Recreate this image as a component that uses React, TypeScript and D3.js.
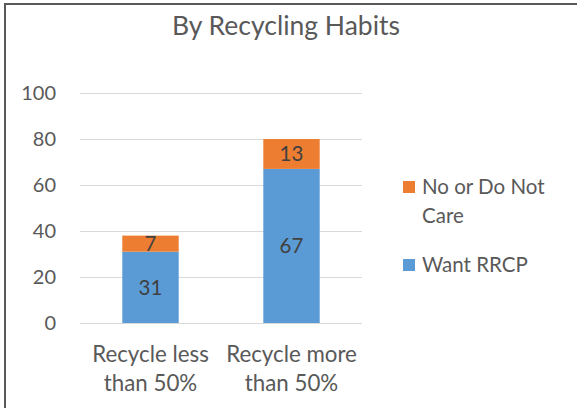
import React from "react";
import * as d3 from "d3";

const categories = ["Recycle less|than 50%", "Recycle more|than 50%"];
const wantRRCP = [31, 67];
const noOrDoNotCare = [7, 13];
const yTicks = [0, 20, 40, 60, 80, 100];
const seriesNames = ["No or Do Not|Care", "Want RRCP"];
const colors = { want: "#5B9BD5", no: "#ED7D31" };

const W = 577;
const H = 408;
const FONT = "Lato, 'Noto Sans', sans-serif";

export default function App() {
  const x = d3.scaleBand<string>().domain(categories).range([80, 362]).paddingInner(0.6).paddingOuter(0.3);
  const y = d3.scaleLinear().domain([0, 100]).range([323, 93]);
  const stack = d3.stack<any>().keys(["want", "no"])(
    categories.map((c, i) => ({ cat: c, want: wantRRCP[i], no: noOrDoNotCare[i] }))
  );
  return (
    <div style={{ position: "fixed", left: 0, top: 0 }}>
      <svg width={W} height={H} style={{ display: "block", background: "#fff" }}>
        <rect x={5} y={4} width={W + 10} height={H + 10} fill="#fff" stroke="#595959" strokeWidth={2} />
        <text x={286} y={35} textAnchor="middle" fontFamily={FONT} fontSize={26.5} fill="#595959">
          By Recycling Habits
        </text>
        {yTicks.map((t) => (
          <g key={t}>
            <line x1={80} x2={362} y1={Math.round(y(t)) + 0.5} y2={Math.round(y(t)) + 0.5} stroke="#D9D9D9" strokeWidth={1} />
            <text x={56} y={y(t)} dy="0.35em" textAnchor="end" fontFamily={FONT} fontSize={20} fill="#595959">
              {t}
            </text>
          </g>
        ))}
        {stack.map((s) => (
          <g key={s.key} fill={(colors as any)[s.key]}>
            {s.map((d, i) => (
              <rect
                key={i}
                x={x(categories[i])}
                y={y(d[1])}
                width={x.bandwidth()}
                height={y(d[0]) - y(d[1])}
              />
            ))}
          </g>
        ))}
        {stack.map((s) =>
          s.map((d, i) => (
            <text
              key={s.key + i}
              x={(x(categories[i]) as number) + x.bandwidth() / 2}
              y={(y(d[0]) + y(d[1])) / 2}
              dy="0.35em"
              textAnchor="middle"
              fontFamily={FONT}
              fontSize={20.5}
              fill="#404040"
            >
              {d[1] - d[0]}
            </text>
          ))
        )}
        {categories.map((c) => {
          const cx = (x(c) as number) + x.bandwidth() / 2;
          return c.split("|").map((line, j) => (
            <text key={c + j} x={cx} y={362 + j * 29} textAnchor="middle" fontFamily={FONT} fontSize={22.3} fill="#595959">
              {line}
            </text>
          ));
        })}
        {seriesNames.map((name, k) => {
          const ly = k === 0 ? 187 : 265;
          const col = k === 0 ? colors.no : colors.want;
          return (
            <g key={name}>
              <rect x={403} y={ly - 6} width={12} height={12} fill={col} />
              {name.split("|").map((line, j) => (
                <text key={j} x={422} y={ly + j * 29} dy="0.35em" fontFamily={FONT} fontSize={20.5} fill="#595959">
                  {line}
                </text>
              ))}
            </g>
          );
        })}
      </svg>
    </div>
  );
}
